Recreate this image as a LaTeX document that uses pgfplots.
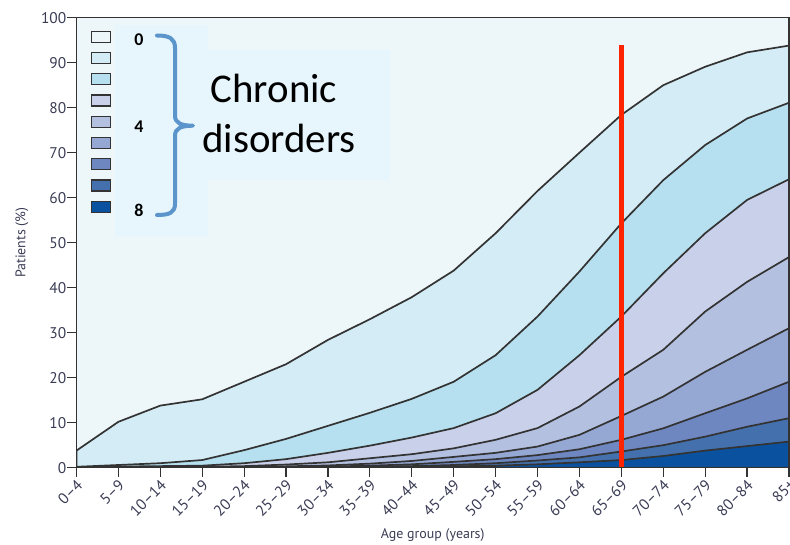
\documentclass[border=0pt]{standalone}
\usepackage{fontspec}
\setmainfont{PT Sans}
\newfontfamily\calibri{Carlito}
\usepackage{pgfplots}
\usepackage{pgfplotstable}
\pgfplotsset{compat=1.18}

\definecolor{c0}{HTML}{EDF7FA}
\definecolor{c1}{HTML}{D4ECF5}
\definecolor{c2}{HTML}{B6E0EF}
\definecolor{c3}{HTML}{C9D0E9}
\definecolor{c4}{HTML}{B3C0E0}
\definecolor{c5}{HTML}{95A7D3}
\definecolor{c6}{HTML}{6F87C0}
\definecolor{c7}{HTML}{4471AE}
\definecolor{c8}{HTML}{0A52A0}
\definecolor{edge}{HTML}{333333}
\definecolor{ticktext}{HTML}{3A3C55}
\definecolor{bracec}{HTML}{5B95CB}
\definecolor{hilite}{HTML}{E7F6FC}
\definecolor{redline}{HTML}{FF2400}

\tikzset{layer/.style={fill=#1, draw=edge, line width=1.7bp, line join=round}}

% cumulative share of patients with at least n chronic disorders
\pgfplotstableread{
x  c1    c2    c3    c4    c5    c6    c7    c8
0  3.8   0.2   0.1   0.05  0.03  0.02  0.01  0
1  10.2  0.6   0.25  0.1   0.05  0.03  0.02  0.01
2  13.8  1.0   0.35  0.15  0.08  0.05  0.03  0.01
3  15.2  1.7   0.45  0.2   0.1   0.06  0.03  0.02
4  19.1  3.9   1.0   0.35  0.15  0.08  0.04  0.02
5  23.0  6.4   1.9   0.7   0.3   0.15  0.08  0.04
6  28.4  9.3   3.3   1.2   0.5   0.25  0.12  0.06
7  33.0  12.2  4.9   2.1   0.9   0.45  0.22  0.1
8  37.9  15.3  6.7   3.0   1.5   0.75  0.35  0.15
9  43.8  19.1  8.8   4.3   2.4   1.3   0.6   0.3
10 52.1  25.0  12.1  6.2   3.3   1.9   1.0   0.45
11 61.5  33.6  17.3  8.8   4.7   2.8   1.6   0.75
12 70.0  43.6  25.0  13.6  7.3   4.1   2.3   1.2
13 78.4  54.3  33.6  20.2  11.5  6.2   3.6   1.7
14 85.0  63.9  43.2  26.2  15.8  8.75  5.0   2.6
15 89.1  71.7  52.1  34.7  21.3  12.1  6.9   3.8
16 92.3  77.6  59.5  41.3  26.2  15.4  9.1   4.8
17 93.8  81.1  64.1  46.8  31.0  19.1  11.0  5.8
}\prevdata

\begin{document}
\begin{tikzpicture}
\begin{axis}[
    scale only axis,
    width=712.5bp, height=450bp,
    xmin=0, xmax=17, ymin=0, ymax=100,
    axis on top,
    axis background/.style={fill=c0},
    axis line style={draw=edge, line width=1.4bp},
    tick pos=left,
    tick align=outside,
    major tick length=9bp,
    every tick/.style={draw=edge, line width=1.2bp},
    xtick={0,...,17},
    xticklabels={0--4,5--9,10--14,15--19,20--24,25--29,30--34,35--39,40--44,
        45--49,50--54,55--59,60--64,65--69,70--74,75--79,80--84,85+},
    ytick={0,10,...,100},
    /pgf/number format/assume math mode=true,
    ticklabel style={font=\fontsize{15.5}{15.5}\selectfont, text=ticktext},
    xticklabel style={xshift=4bp, yshift=-5bp, rotate=45, anchor=east, inner sep=1bp},
    yticklabel style={inner sep=1bp},
    xlabel={Age group (years)},
    ylabel={Patients (\%)},
    xlabel shift=6bp,
    ylabel shift=8bp,
    label style={font=\fontsize{14}{14}\selectfont, text=ticktext},
]
\addplot[layer=c1] table[x=x, y=c1] {\prevdata} \closedcycle;
\addplot[layer=c2] table[x=x, y=c2] {\prevdata} \closedcycle;
\addplot[layer=c3] table[x=x, y=c3] {\prevdata} \closedcycle;
\addplot[layer=c4] table[x=x, y=c4] {\prevdata} \closedcycle;
\addplot[layer=c5] table[x=x, y=c5] {\prevdata} \closedcycle;
\addplot[layer=c6] table[x=x, y=c6] {\prevdata} \closedcycle;
\addplot[layer=c7] table[x=x, y=c7] {\prevdata} \closedcycle;
\addplot[layer=c8] table[x=x, y=c8] {\prevdata} \closedcycle;
\addplot[draw=redline, line width=4.7bp] coordinates {(13,0) (13,94)};
\end{axis}

% legend panel
\fill[hilite] (38.5bp,230.7bp) rectangle (131.5bp,442.7bp);
\fill[hilite] (131.5bp,287.7bp) rectangle (313.5bp,417.7bp);
\foreach \i in {0,...,8} {
  \filldraw[fill=c\i, draw=edge, line width=1.2bp]
    (14.7bp,{(431-21.25*\i)*1bp-5.5bp}) rectangle ++(19bp,11bp);
}
\node[font=\calibri\bfseries\fontsize{18}{18}\selectfont] at (62.5bp,427.7bp) {0};
\node[font=\calibri\bfseries\fontsize{18}{18}\selectfont] at (62.5bp,341bp) {4};
\node[font=\calibri\bfseries\fontsize{18}{18}\selectfont] at (62.5bp,257bp) {8};
\draw[bracec, line width=4bp, line cap=round, line join=round]
  (80.5bp,432.2bp) .. controls (93bp,432.2bp) and (98.5bp,429bp) .. (98.5bp,420bp)
  -- (98.5bp,352bp) .. controls (98.5bp,345bp) and (104bp,342bp) .. (116.5bp,342bp)
  .. controls (104bp,342bp) and (98.5bp,339bp) .. (98.5bp,332bp)
  -- (98.5bp,264bp) .. controls (98.5bp,255bp) and (93bp,252.7bp) .. (80.5bp,252.7bp);
\node[font=\calibri\fontsize{41}{41}\selectfont, anchor=base] at (197.5bp,364.7bp) {Chronic};
\node[font=\calibri\fontsize{41}{41}\selectfont, anchor=base] at (202.5bp,314.7bp) {disorders};

\pgfresetboundingbox
\path (-76.5bp,-77.3bp) rectangle (713.5bp,467.7bp);
\end{tikzpicture}
\end{document}
